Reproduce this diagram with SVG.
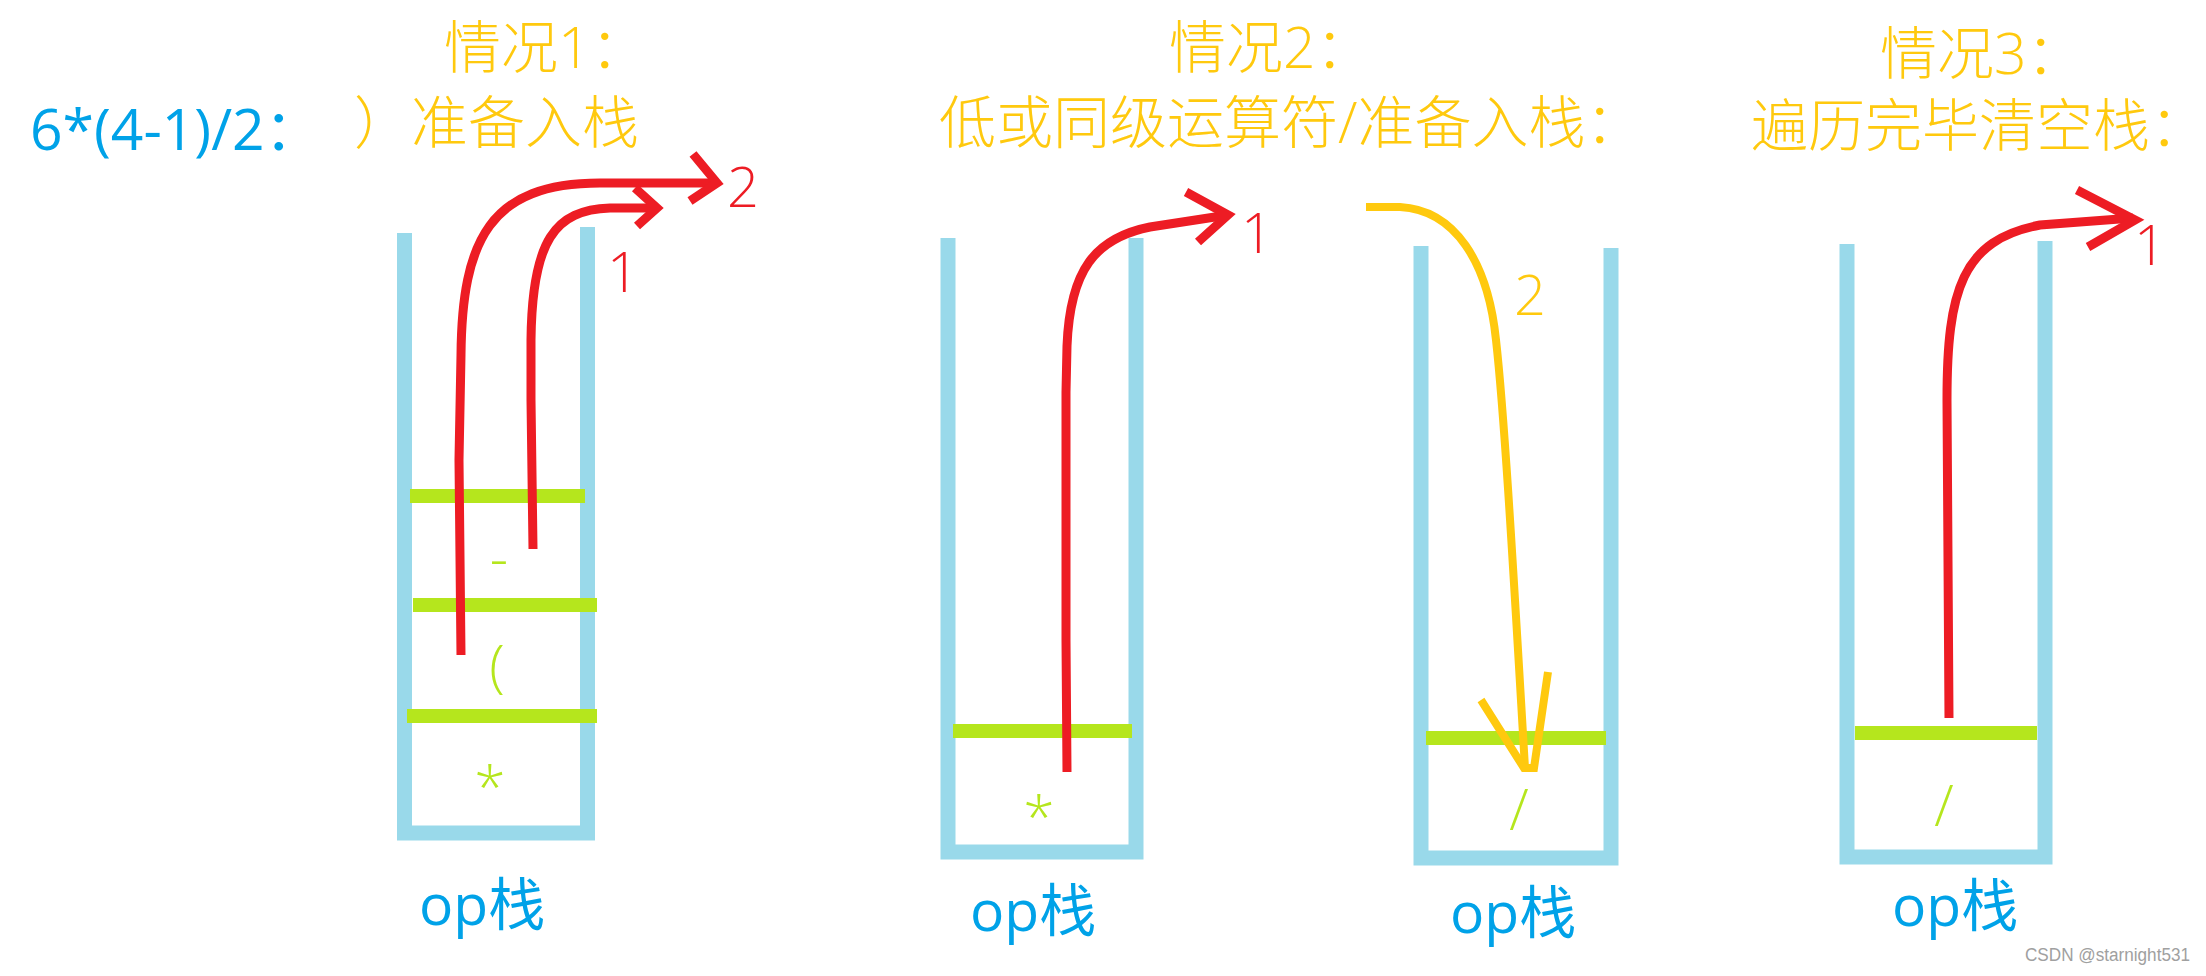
<svg xmlns="http://www.w3.org/2000/svg" width="2206" height="976" viewBox="0 0 2206 976">
  <style>
    .title { font-family: "Open Sans", "Noto Sans CJK SC", sans-serif; font-size: 57px; fill: #ffc90e; font-weight: 300; }
    .blue { font-family: "Open Sans", "Noto Sans CJK SC", sans-serif; font-size: 57px; fill: #00a2e8; }
    .lbl { font-family: "Open Sans", "Noto Sans CJK SC", sans-serif; font-size: 57px; fill: #00a2e8; }
    .item { font-family: "Open Sans", "Noto Sans CJK SC", sans-serif; font-size: 57px; fill: #b5e61d; font-weight: 300; text-anchor: middle; }
    .num { font-family: "Open Sans", sans-serif; font-size: 56px; font-weight: 300; }
    .wall { fill: none; stroke: #99d9ea; stroke-width: 15; stroke-linejoin: miter; stroke-linecap: butt; }
    .div { stroke: #b5e61d; stroke-width: 14; stroke-linecap: butt; }
    .red { fill: none; stroke: #ed1c24; stroke-width: 9; stroke-linejoin: miter; stroke-linecap: butt; }
    .gold { fill: none; stroke: #ffc90e; stroke-width: 8; stroke-linejoin: miter; stroke-linecap: butt; }
    .wm { font-family: "Liberation Sans", sans-serif; font-size: 18px; fill: #a0a0a0; }
  </style>
  <rect width="2206" height="976" fill="#ffffff"/>

  <g id="expression">
    <text class="blue" x="30" y="150">6*(4-1)/2：</text>
  </g>

  <g id="case1-title">
    <text class="title" x="444" y="68">情况1：</text>
    <text class="title" x="354" y="143">）准备入栈</text>
  </g>
  <g id="case2-title">
    <text class="title" x="1169" y="68">情况2：</text>
    <text class="title" x="939" y="143">低或同级运算符/准备入栈：</text>
  </g>
  <g id="case3-title">
    <text class="title" x="1880" y="74">情况3：</text>
    <text class="title" x="1751" y="146">遍历完毕清空栈：</text>
  </g>

  <g id="stack1">
    <path class="wall" d="M404.5,233 V833 H587.5 V227"/>
    <line class="div" x1="410" y1="496" x2="585" y2="496"/>
    <line class="div" x1="413" y1="605" x2="597" y2="605"/>
    <line class="div" x1="407" y1="716" x2="597" y2="716"/>
    <text class="item" x="499" y="578">-</text>
    <text class="item" x="497" y="686">(</text>
    <text class="item" x="490" y="807">*</text>
    <text class="lbl" x="419" y="925">op栈</text>
  </g>

  <g id="stack2">
    <path class="wall" d="M948,238 V852 H1136 V238"/>
    <line class="div" x1="953" y1="731" x2="1132" y2="731"/>
    <text class="item" x="1039" y="837">*</text>
    <text class="lbl" x="970" y="931">op栈</text>
  </g>

  <g id="stack3">
    <path class="wall" d="M1421,246 V858 H1611 V248"/>
    <line class="div" x1="1426" y1="738" x2="1606" y2="738"/>
    <text class="item" x="1519" y="830">/</text>
    <text class="lbl" x="1450" y="933">op栈</text>
  </g>

  <g id="stack4">
    <path class="wall" d="M1847,244 V857 H2045 V241"/>
    <line class="div" x1="1855" y1="733" x2="2037" y2="733"/>
    <text class="item" x="1944" y="826">/</text>
    <text class="lbl" x="1892" y="926">op栈</text>
  </g>

  <g id="connectors">
    <path class="red" d="M461,655 L459,460 L461,355 C462,240 490,183 600,183 L717,183"/>
    <polyline class="red" points="693,154 717,183 690,201"/>
    <text class="num" x="727" y="207" fill="#ed1c24">2</text>

    <path class="red" d="M533,549 L531,400 L531,340 C532,240 555,210 610,208 L657,208"/>
    <polyline class="red" points="635,188 657,208 637,226"/>
    <text class="num" x="607" y="292" fill="#ed1c24">1</text>

    <path class="red" d="M1067,772 L1066,640 L1066,392 L1067,346 C1070,270 1095,238 1150,227 L1228,215"/>
    <polyline class="red" points="1186,192 1228,215 1198,242"/>
    <text class="num" x="1241" y="253" fill="#ed1c24">1</text>

    <path class="gold" d="M1366,207 L1400,207 C1455,210 1488,262 1496,340 C1505,420 1515,600 1525,768"/>
    <polyline class="gold" points="1481,700 1524,768 1534,768 1548,672"/>
    <text class="num" x="1514" y="315" fill="#ffc90e">2</text>

    <path class="red" d="M1949,718 L1947,400 C1947,290 1962,240 2040,225 L2133,218"/>
    <polyline class="red" points="2077,190 2135,220 2088,247"/>
    <text class="num" x="2134" y="265" fill="#ed1c24">1</text>
  </g>

  <text class="wm" x="2025" y="961" textLength="165" lengthAdjust="spacingAndGlyphs">CSDN @starnight531</text>
</svg>
